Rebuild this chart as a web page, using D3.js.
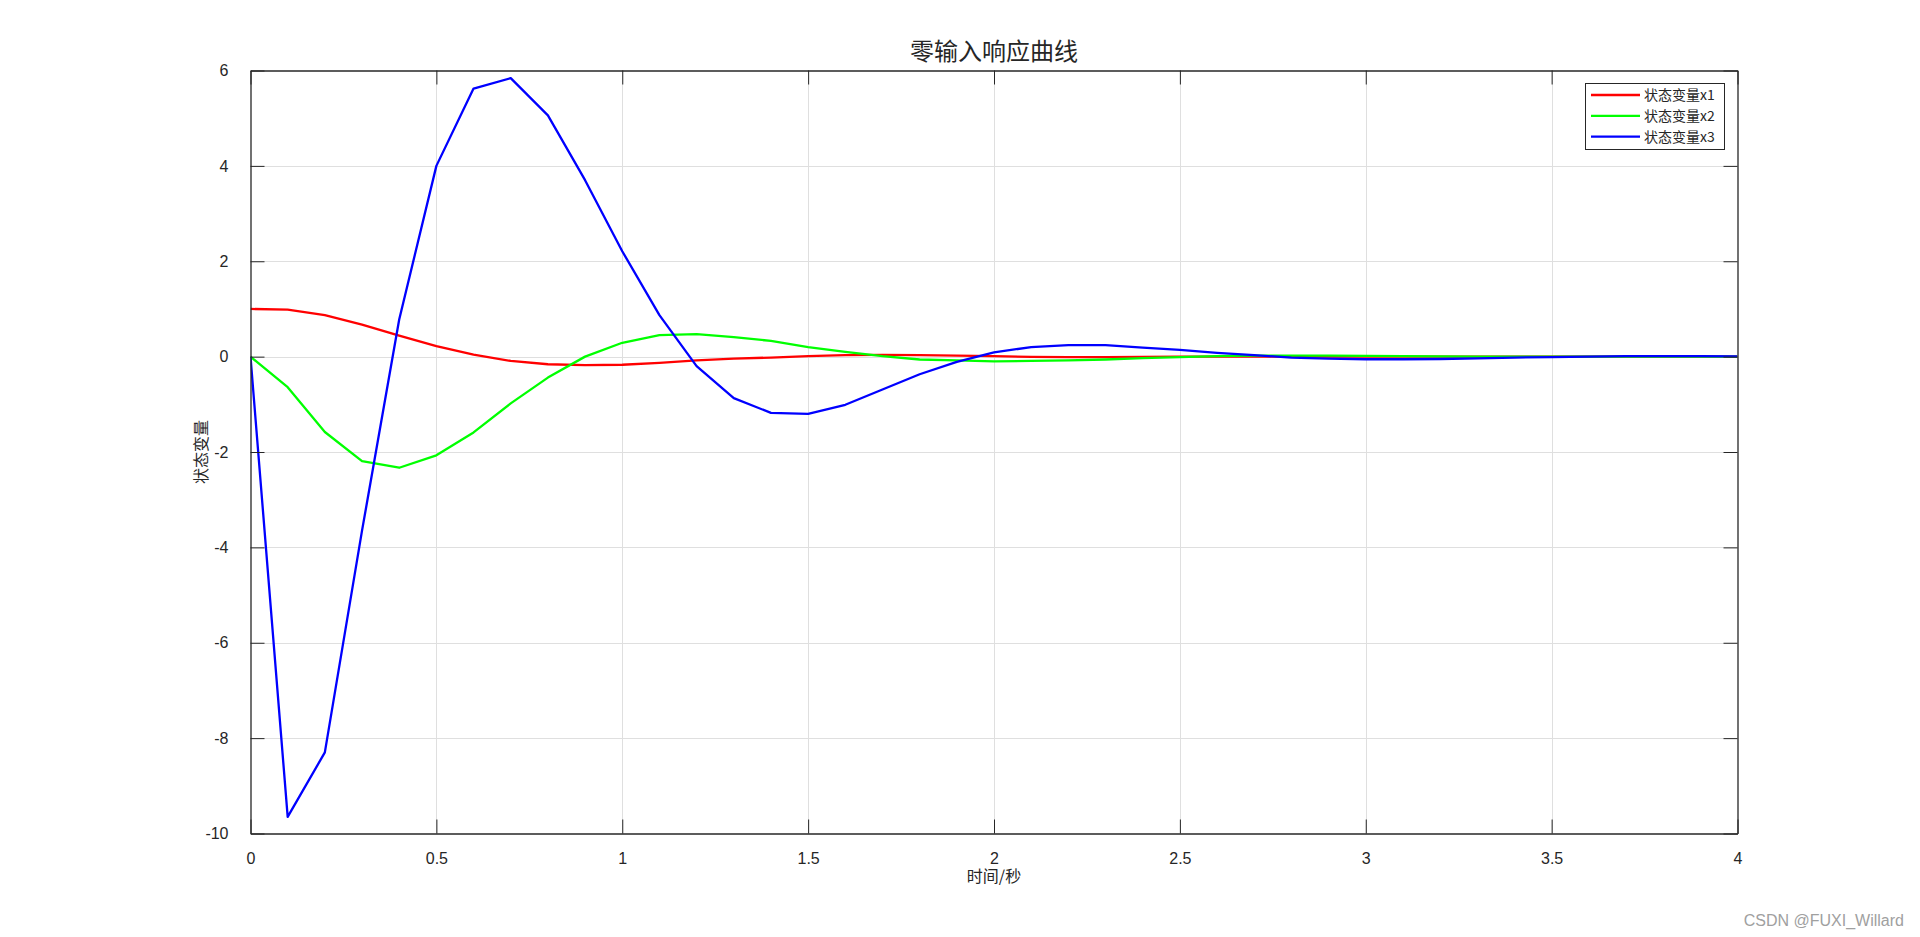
<!DOCTYPE html>
<html>
<head>
<meta charset="utf-8">
<script src="https://cdn.jsdelivr.net/npm/d3@7"></script>
<style>
  html, body { margin: 0; padding: 0; background: #fff; }
  svg { display: block; }
</style>
</head>
<body>
<svg id="chart" width="1920" height="937"></svg>
<script>
// ---- data ----
const timeValues = d3.range(0, 41).map(i => +(i * 0.1).toFixed(1));
const x1Values = [1.0, 0.985, 0.87, 0.67, 0.44, 0.22, 0.04, -0.09, -0.16, -0.18, -0.17,
  -0.13, -0.08, -0.04, -0.02, 0.01, 0.03, 0.035, 0.03, 0.02, 0.01,
  -0.005, -0.01, -0.01, -0.005, 0, 0, 0, 0, 0, 0,
  0, 0, 0, 0, 0, 0, 0, 0, 0, 0];
const x2Values = [0, -0.64, -1.58, -2.19, -2.33, -2.07, -1.59, -0.98, -0.44, 0.0, 0.29,
  0.45, 0.47, 0.41, 0.33, 0.20, 0.10, 0.01, -0.06, -0.08, -0.10,
  -0.09, -0.08, -0.06, -0.03, -0.01, 0.01, 0.02, 0.02, 0.02, 0.015,
  0.01, 0.005, 0, 0, 0, 0, 0, 0, 0, 0];
const x3Values = [0, -9.65, -8.30, -3.65, 0.78, 4.0, 5.62, 5.84, 5.06, 3.70, 2.21,
  0.87, -0.20, -0.87, -1.18, -1.20, -1.01, -0.69, -0.37, -0.11, 0.09,
  0.20, 0.24, 0.24, 0.19, 0.14, 0.08, 0.03, -0.02, -0.04, -0.055,
  -0.055, -0.05, -0.035, -0.02, -0.01, 0, 0.01, 0.01, 0.01, 0.005];
const seriesNames = ["状态变量x1", "状态变量x2", "状态变量x3"];
const seriesColors = ["#ff0000", "#00ff00", "#0000ff"];
const xTickValues = [0, 0.5, 1, 1.5, 2, 2.5, 3, 3.5, 4];
const yTickValues = [-10, -8, -6, -4, -2, 0, 2, 4, 6];
const titleText = "零输入响应曲线";
const xLabelText = "时间/秒";
const yLabelText = "状态变量";
const watermarkText = "CSDN @FUXI_Willard";

// ---- layout ----
const plot = { left: 250.5, right: 1737.5, top: 70.5, bottom: 833.5 };
const svg = d3.select("#chart");
const x = d3.scaleLinear().domain([0, 4]).range([plot.left, plot.right]);
const y = d3.scaleLinear().domain([-10, 6]).range([plot.bottom, plot.top]);
const tickLen = 14;
const axisColor = "#262626";
const font = "'Liberation Sans', Arial, sans-serif";
const cjk = "'Noto Sans CJK SC', sans-serif";
const fmt = d => String(d);

// grid
const grid = svg.append("g");
grid.selectAll("line.gx").data(xTickValues.slice(1, -1)).join("line")
  .attr("x1", d => Math.round(x(d)) + 0.5).attr("x2", d => Math.round(x(d)) + 0.5)
  .attr("y1", plot.top).attr("y2", plot.bottom)
  .attr("stroke", "#dfdfdf").attr("stroke-width", 1);
grid.selectAll("line.gy").data(yTickValues.slice(1, -1)).join("line")
  .attr("y1", d => Math.round(y(d)) + 0.5).attr("y2", d => Math.round(y(d)) + 0.5)
  .attr("x1", plot.left).attr("x2", plot.right)
  .attr("stroke", "#dfdfdf").attr("stroke-width", 1);

// lines
const seriesData = [x1Values, x2Values, x3Values];
const lineGen = d3.line().x((d, i) => x(timeValues[i])).y(d => y(d));
svg.append("clipPath").attr("id", "clip").append("rect")
  .attr("x", plot.left).attr("y", plot.top - 2)
  .attr("width", plot.right - plot.left).attr("height", plot.bottom - plot.top + 4);
svg.append("g").attr("clip-path", "url(#clip)")
  .selectAll("path").data(seriesData).join("path")
  .attr("d", d => lineGen(d))
  .attr("fill", "none")
  .attr("stroke", (d, i) => seriesColors[i])
  .attr("stroke-width", 2.3)
  .attr("stroke-linejoin", "round");

// axes (bottom + left with labels, top + right mirrored ticks)
const xAxis = d3.axisBottom(x).tickValues(xTickValues).tickSizeInner(-tickLen).tickSizeOuter(0)
  .tickPadding(tickLen + 8).tickFormat(fmt);
const yAxis = d3.axisLeft(y).tickValues(yTickValues).tickSizeInner(-tickLen).tickSizeOuter(0)
  .tickPadding(tickLen + 8).tickFormat(fmt);
const xTop = d3.axisTop(x).tickValues(xTickValues).tickSizeInner(-tickLen).tickSizeOuter(0).tickFormat("");
const yRight = d3.axisRight(y).tickValues(yTickValues).tickSizeInner(-tickLen).tickSizeOuter(0).tickFormat("");

function style(g) {
  g.selectAll("path.domain").attr("stroke", axisColor).attr("stroke-width", 1.3);
  g.selectAll(".tick line").attr("stroke", axisColor).attr("stroke-width", 1);
  g.selectAll(".tick text").attr("fill", "#262626").style("font-family", font).style("font-size", "16px");
}
svg.append("g").attr("transform", `translate(0,${plot.bottom})`).call(xAxis).call(style)
  .selectAll(".tick text").attr("dy", "0.5em");
svg.append("g").attr("transform", `translate(${plot.left},0)`).call(yAxis).call(style);
svg.append("g").attr("transform", `translate(0,${plot.top})`).call(xTop).call(style);
svg.append("g").attr("transform", `translate(${plot.right},0)`).call(yRight).call(style);

// title & labels
svg.append("text").attr("x", (plot.left + plot.right) / 2).attr("y", 60)
  .attr("text-anchor", "middle").style("font-family", cjk).style("font-size", "24px")
  .attr("fill", "#262626").text(titleText);
svg.append("text").attr("x", (plot.left + plot.right) / 2).attr("y", 882)
  .attr("text-anchor", "middle").style("font-family", cjk).style("font-size", "16px")
  .attr("fill", "#262626").text(xLabelText);
svg.append("text")
  .attr("transform", `translate(207,${(plot.top + plot.bottom) / 2}) rotate(-90)`)
  .attr("text-anchor", "middle").style("font-family", cjk).style("font-size", "16px")
  .attr("fill", "#262626").text(yLabelText);

// legend
const legend = svg.append("g");
legend.append("rect").attr("x", 1585.5).attr("y", 83.5).attr("width", 139).attr("height", 66)
  .attr("fill", "#fff").attr("stroke", axisColor).attr("stroke-width", 1);
const rows = legend.selectAll("g.row").data(seriesNames).join("g")
  .attr("transform", (d, i) => `translate(0,${95 + i * 20.8})`);
rows.append("line").attr("x1", 1591).attr("x2", 1640).attr("y1", 0).attr("y2", 0)
  .attr("stroke", (d, i) => seriesColors[i]).attr("stroke-width", 2.3);
rows.append("text").attr("x", 1644).attr("y", 0).attr("dy", "0.35em")
  .style("font-family", cjk).style("font-size", "14px").attr("fill", "#262626")
  .text(d => d);

// watermark
svg.append("text").attr("x", 1904).attr("y", 926).attr("text-anchor", "end")
  .style("font-family", font).style("font-size", "16px").attr("fill", "#a0a0a0")
  .text(watermarkText);
</script>
</body>
</html>
